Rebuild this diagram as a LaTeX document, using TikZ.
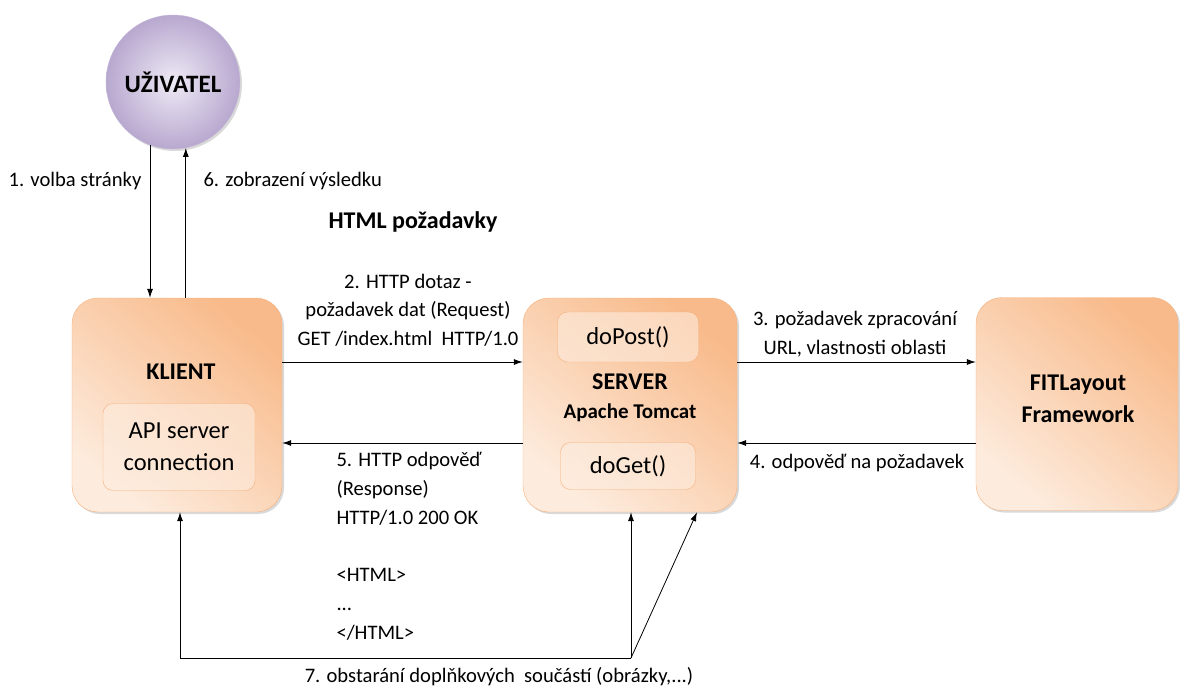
\documentclass[tikz,border=0pt]{standalone}
\usepackage{fontspec}
\setmainfont{Carlito}
\usetikzlibrary{arrows.meta,shadows}
\definecolor{BoxLight}{RGB}{253,236,222}
\definecolor{BoxDark}{RGB}{248,186,138}
\definecolor{BoxLine}{RGB}{245,176,124}
\definecolor{UserLight}{RGB}{238,234,245}
\definecolor{UserDark}{RGB}{184,168,207}

\begin{document}
\begin{tikzpicture}[x=1pt,y=-1pt,>={Latex[length=9pt,width=6pt]},every node/.style={font=\fontsize{20.6}{28.7}\selectfont}]
\tikzset{block/.style={draw=BoxLine,rounded corners=26pt,top color=BoxDark,bottom color=BoxLight,shading angle=-40,drop shadow={opacity=0.3,shadow xshift=2pt,shadow yshift=-2pt}},
  inner/.style={draw=BoxLine,rounded corners=10pt,fill=BoxLight,fill opacity=0.6,text opacity=1,align=center,font=\fontsize{24.5}{32}\selectfont},
  head/.style={font=\fontsize{24}{32}\selectfont\bfseries,align=center},
  user/.style={circle,draw=UserDark!80,inner color=UserLight,outer color=UserDark,minimum size=134pt,font=\fontsize{25}{28}\selectfont\bfseries,drop shadow={opacity=0.3,shadow xshift=2pt,shadow yshift=-2pt}},
  conn/.style={->,line width=0.8pt}}
\useasboundingbox (0,0) rectangle (1180,688);
% main blocks
\node[user] (uziv) at (173,82) {UŽIVATEL};
\node[block,minimum width=210pt,minimum height=214pt] (klient) at (177,405) {};
\node[head] (klientlbl) at (181,372) {KLIENT};
\node[inner,minimum width=152pt,minimum height=87pt] (api) at (179,447) {API server\\connection};
\node[block,minimum width=214pt,minimum height=214pt] (server) at (630,405) {};
\node[inner,minimum width=141pt,minimum height=50pt] (dopost) at (628,337) {doPost()};
\node[head] (serverlbl) at (630,382) {SERVER};
\node[head,font=\fontsize{21}{24}\selectfont\bfseries] (tomcat) at (630,413) {Apache Tomcat};
\node[inner,minimum width=135pt,minimum height=47pt] (doget) at (628,466) {doGet()};
\node[block,minimum width=202pt,minimum height=213pt] (fit) at (1077,404) {};
\node[head] (fitlbl) at (1078,399) {FITLayout\\Framework};
% labels
\node (l1) at (75,181) {1. volba stránky};
\node[anchor=west] (l6) at (200,181) {6. zobrazení výsledku};
\node[head] (htmlreq) at (413,222) {HTML požadavky};
\node[align=center] (l2) at (408,310) {2. HTTP dotaz -\\požadavek dat (Request)\\GET /index.html\ \ HTTP/1.0};
\node[align=center] (l3) at (855,334) {3. požadavek zpracování\\URL, vlastnosti oblasti};
\node (l4) at (857,463) {4. odpověď na požadavek};
\node[align=left,anchor=north west] (l5) at (333,449) {5. HTTP odpověď\\(Response)\\HTTP/1.0 200 OK\\[28.7pt]<HTML>\\...\\</HTML>};
\node (l7) at (499,677) {7. obstarání doplňkových\ \ součástí (obrázky,...)};
% connectors
\draw[conn] (uziv.250) -- (klient.north -| uziv.250);
\draw[conn] (klient.north -| uziv.281) -- (uziv.281);
\draw[conn] (klient.east |- 0,362) -- (server.west |- 0,362);
\draw[conn] (server.east |- 0,362) -- (fit.west |- 0,362);
\draw[conn] (fit.west |- 0,443) -- (server.east |- 0,443);
\draw[conn] (server.west |- 0,443) -- (klient.east |- 0,443);
\coordinate (corner) at (631,658);
\draw[conn] (corner) -- (server.south -| corner);
\draw[conn] (corner) -- (server.south -| 697,0);
\draw[conn] (corner) -| (klient.south -| 180,0);
\end{tikzpicture}
\end{document}
